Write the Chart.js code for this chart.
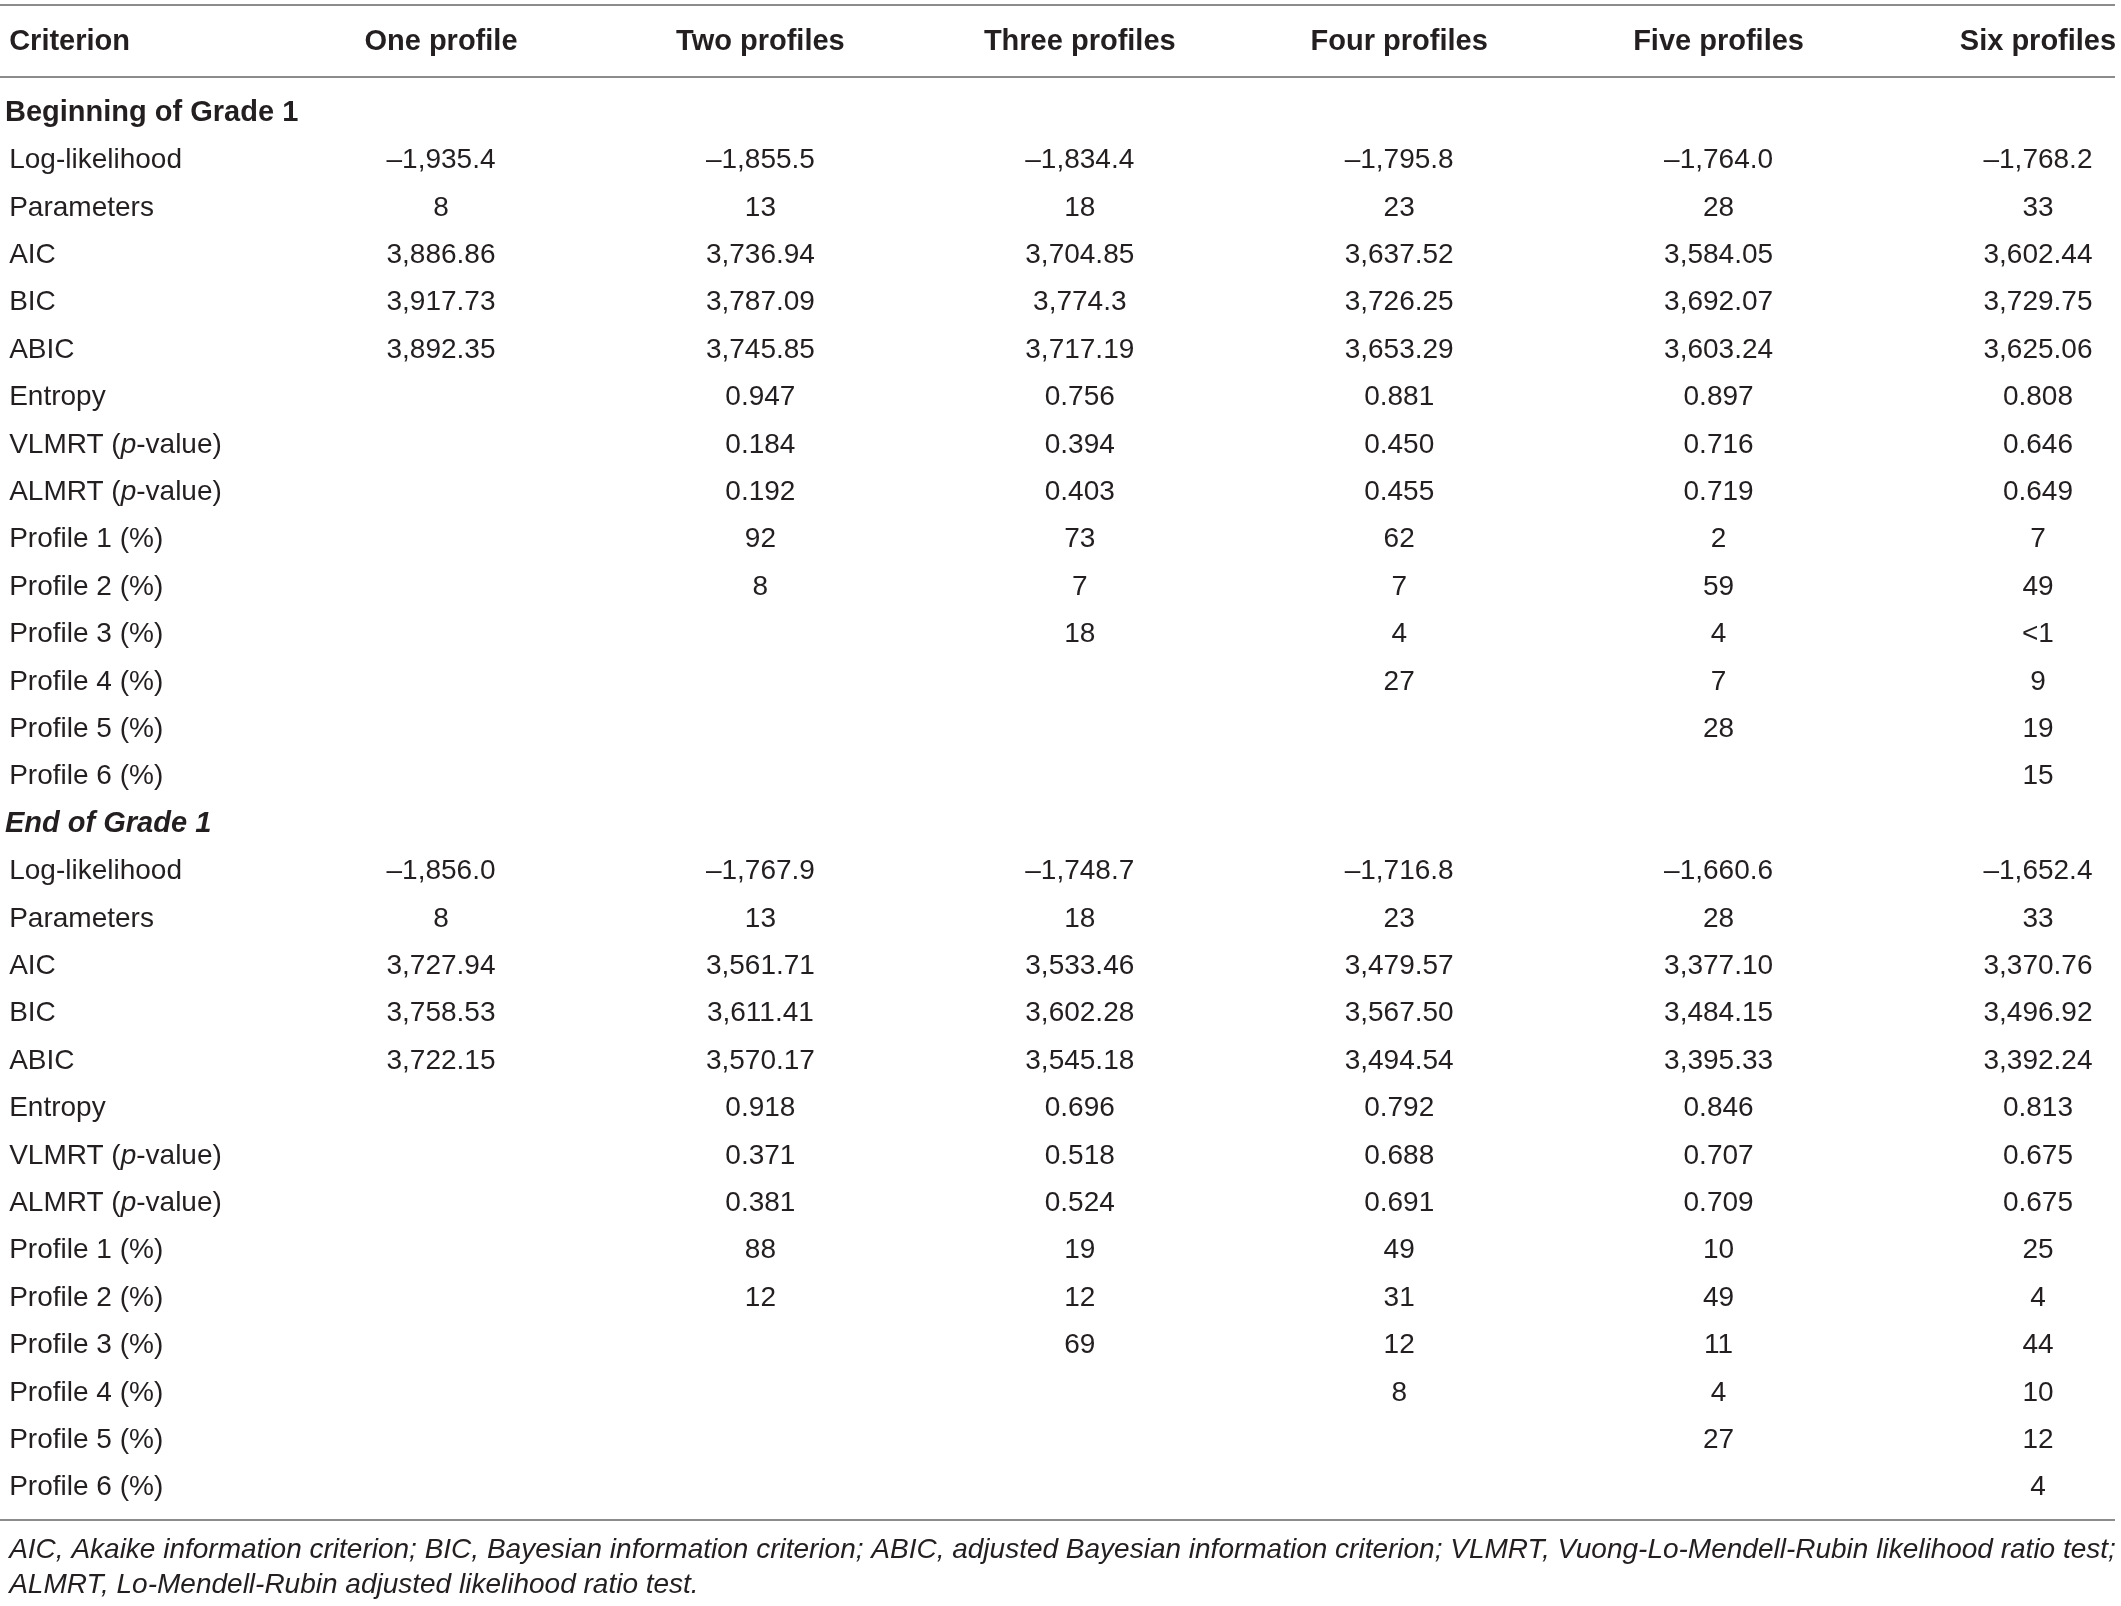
<!DOCTYPE html>
<html>
<head>
<meta charset="utf-8">
<script src="https://cdn.jsdelivr.net/npm/chart.js@4.4.1/dist/chart.umd.min.js"></script>
<style>
  html, body { margin: 0; padding: 0; background: #fff; }
  #wrap { width: 2121px; height: 1606px; position: relative; }
</style>
</head>
<body>
<div id="wrap"><canvas id="tbl"></canvas></div>
<script>
// ── Table data ────────────────────────────────────────────────────────────────

const firstHeader = 'Criterion';
const columns = ['One profile', 'Two profiles', 'Three profiles', 'Four profiles', 'Five profiles', 'Six profiles'];
const sections = ['Beginning of Grade 1', 'End of Grade 1'];
const criteria = [
  'Log-likelihood', 'Parameters', 'AIC', 'BIC', 'ABIC', 'Entropy',
  'VLMRT (p-value)', 'ALMRT (p-value)',
  'Profile 1 (%)', 'Profile 2 (%)', 'Profile 3 (%)', 'Profile 4 (%)', 'Profile 5 (%)', 'Profile 6 (%)',
];

const beginningRows = [
  ['–1,935.4', '–1,855.5', '–1,834.4', '–1,795.8', '–1,764.0', '–1,768.2'],
  ['8', '13', '18', '23', '28', '33'],
  ['3,886.86', '3,736.94', '3,704.85', '3,637.52', '3,584.05', '3,602.44'],
  ['3,917.73', '3,787.09', '3,774.3', '3,726.25', '3,692.07', '3,729.75'],
  ['3,892.35', '3,745.85', '3,717.19', '3,653.29', '3,603.24', '3,625.06'],
  ['', '0.947', '0.756', '0.881', '0.897', '0.808'],
  ['', '0.184', '0.394', '0.450', '0.716', '0.646'],
  ['', '0.192', '0.403', '0.455', '0.719', '0.649'],
  ['', '92', '73', '62', '2', '7'],
  ['', '8', '7', '7', '59', '49'],
  ['', '', '18', '4', '4', '<1'],
  ['', '', '', '27', '7', '9'],
  ['', '', '', '', '28', '19'],
  ['', '', '', '', '', '15'],
];

const endRows = [
  ['–1,856.0', '–1,767.9', '–1,748.7', '–1,716.8', '–1,660.6', '–1,652.4'],
  ['8', '13', '18', '23', '28', '33'],
  ['3,727.94', '3,561.71', '3,533.46', '3,479.57', '3,377.10', '3,370.76'],
  ['3,758.53', '3,611.41', '3,602.28', '3,567.50', '3,484.15', '3,496.92'],
  ['3,722.15', '3,570.17', '3,545.18', '3,494.54', '3,395.33', '3,392.24'],
  ['', '0.918', '0.696', '0.792', '0.846', '0.813'],
  ['', '0.371', '0.518', '0.688', '0.707', '0.675'],
  ['', '0.381', '0.524', '0.691', '0.709', '0.675'],
  ['', '88', '19', '49', '10', '25'],
  ['', '12', '12', '31', '49', '4'],
  ['', '', '69', '12', '11', '44'],
  ['', '', '', '8', '4', '10'],
  ['', '', '', '', '27', '12'],
  ['', '', '', '', '', '4'],
];

const footnote = [
  'AIC, Akaike information criterion; BIC, Bayesian information criterion; ABIC, adjusted Bayesian information criterion; VLMRT, Vuong-Lo-Mendell-Rubin likelihood ratio test;',
  'ALMRT, Lo-Mendell-Rubin adjusted likelihood ratio test.',
];

// ── Layout (scale units: x = column index, y = row index) ─────────────────────

const LABEL_X   = -0.352;
const SECTION_X = -0.365;
const HEADER_Y  = -1.5;
const RULES_Y   = [-2.28, -0.76, 29.68];
const FOOT_Y    = [30.33, 31.05];

const FONT_FAMILY = '"Liberation Sans", Arial, sans-serif';
const TEXT_COLOR  = '#231f20';
const BODY_SIZE   = 28;
const BOLD_SIZE   = 29;
const NOTE_SIZE   = 28;

// ── Build points ──────────────────────────────────────────────────────────────

function buildPoints() {
  const cells = [], labels = [], heads = [], secs = [];
  heads.push({ x: LABEL_X, y: HEADER_Y, text: firstHeader, align: 'left' });
  columns.forEach((c, i) => heads.push({ x: i + 1, y: HEADER_Y, text: c, align: 'center' }));

  [beginningRows, endRows].forEach((rows, s) => {
    const base = s * (criteria.length + 1);
    secs.push({ x: SECTION_X, y: base, text: sections[s], italic: s === 1 });
    rows.forEach((vals, r) => {
      labels.push({ x: LABEL_X, y: base + r + 1, text: criteria[r] });
      vals.forEach((v, c) => {
        if (v !== '') cells.push({ x: c + 1, y: base + r + 1, text: v });
      });
    });
  });
  return { cells, labels, heads, secs };
}

// ── Drawing plugin ────────────────────────────────────────────────────────────

function drawRich(ctx, text, x, y, size) {
  // italic "p" in "(p-value)"
  const parts = text.split(/(\bp\b)(?=-value)/);
  let cx = x;
  parts.forEach(p => {
    ctx.font = `${p === 'p' ? 'italic ' : ''}${size}px ${FONT_FAMILY}`;
    ctx.fillText(p, cx, y);
    cx += ctx.measureText(p).width;
  });
}

const tablePlugin = {
  id: 'tableText',
  afterDatasetsDraw(chart) {
    const { ctx, chartArea, scales } = chart;
    ctx.save();
    ctx.fillStyle = TEXT_COLOR;
    ctx.textBaseline = 'middle';

    chart.data.datasets.forEach((ds, di) => {
      const meta = chart.getDatasetMeta(di);
      meta.data.forEach((el, j) => {
        const d = ds.data[j];
        if (ds.kind === 'head') {
          ctx.font = `bold ${BOLD_SIZE}px ${FONT_FAMILY}`;
          ctx.textAlign = d.align;
          ctx.fillText(d.text, el.x, el.y);
        } else if (ds.kind === 'section') {
          ctx.font = `${d.italic ? 'italic ' : ''}bold ${BOLD_SIZE}px ${FONT_FAMILY}`;
          ctx.textAlign = 'left';
          ctx.fillText(d.text, el.x, el.y);
        } else if (ds.kind === 'label') {
          ctx.textAlign = 'left';
          drawRich(ctx, d.text, el.x, el.y, BODY_SIZE);
        } else {
          ctx.font = `${BODY_SIZE}px ${FONT_FAMILY}`;
          ctx.textAlign = 'center';
          ctx.fillText(d.text, el.x, el.y);
        }
      });
    });

    // horizontal rules
    ctx.strokeStyle = '#8c8c8c';
    ctx.lineWidth = 2;
    RULES_Y.forEach(v => {
      const y = Math.round(scales.y.getPixelForValue(v));
      ctx.beginPath();
      ctx.moveTo(chartArea.left, y);
      ctx.lineTo(chartArea.right - 6, y);
      ctx.stroke();
    });

    // footnote
    ctx.font = `italic ${NOTE_SIZE}px ${FONT_FAMILY}`;
    ctx.textAlign = 'left';
    footnote.forEach((line, i) => {
      ctx.fillText(line, scales.x.getPixelForValue(LABEL_X), scales.y.getPixelForValue(FOOT_Y[i]));
    });
    ctx.restore();
  },
};

// ── Chart ─────────────────────────────────────────────────────────────────────

const { cells, labels, heads, secs } = buildPoints();

new Chart(document.getElementById('tbl').getContext('2d'), {
  type: 'scatter',
  data: {
    datasets: [
      { kind: 'head', data: heads, pointRadius: 0 },
      { kind: 'section', data: secs, pointRadius: 0 },
      { kind: 'label', data: labels, pointRadius: 0 },
      { kind: 'cell', data: cells, pointRadius: 0 },
    ],
  },
  plugins: [tablePlugin],
  options: {
    responsive: true,
    maintainAspectRatio: false,
    animation: false,
    events: [],
    layout: { padding: 0 },
    plugins: { legend: { display: false }, tooltip: { enabled: false } },
    scales: {
      x: { type: 'linear', min: -0.3807, max: 6.26, display: false },
      y: { type: 'linear', min: -2.384, max: 31.498, reverse: true, display: false },
    },
  },
});
</script>
</body>
</html>
